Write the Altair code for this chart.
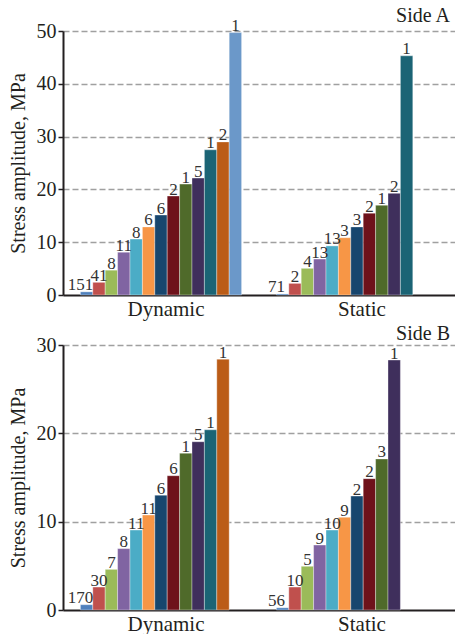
import altair as alt
import pandas as pd

categories = ["Dynamic", "Static"]
series_ids = [f"s{i:02d}" for i in range(1, 14)]
series_colors = ["#4f81bd", "#c0504d", "#9bbb59", "#8064a2", "#4bacc6", "#f79646",
                 "#17466e", "#6e121b", "#4f6a2a", "#3f2f5c", "#1b6475", "#bb5c17", "#6b98c9"]

# Side A
a_dyn_values = [0.6, 2.4, 4.7, 8.1, 10.6, 12.9, 15.15, 18.75, 21.0, 22.15, 27.5, 29.0, 49.7]
a_dyn_counts = [151, 41, 8, 11, 8, 6, 6, 2, 1, 5, 1, 2, 1]
a_sta_values = [0.2, 2.2, 5.05, 6.8, 9.3, 10.85, 12.9, 15.5, 17.0, 19.25, 45.3]
a_sta_counts = [71, 2, 4, 13, 13, 3, 3, 2, 1, 2, 1]

# Side B
b_dyn_values = [0.6, 2.6, 4.6, 6.95, 9.05, 10.75, 13.0, 15.2, 17.75, 19.05, 20.4, 28.4]
b_dyn_counts = [170, 30, 7, 8, 11, 11, 6, 6, 1, 5, 1, 1]
b_sta_values = [0.25, 2.6, 4.95, 7.35, 9.05, 10.5, 12.9, 14.87, 17.1, 28.3]
b_sta_counts = [56, 10, 5, 9, 10, 9, 2, 2, 3, 1]

a_ticks = [0, 10, 20, 30, 40, 50]
b_ticks = [0, 10, 20, 30]

FONT = "Liberation Serif"
INK = "#231f20"


def frame(dyn_v, dyn_c, sta_v, sta_c):
    rows = []
    for cat, vals, cnts in (("Dynamic", dyn_v, dyn_c), ("Static", sta_v, sta_c)):
        for i, (v, c) in enumerate(zip(vals, cnts)):
            rows.append({"cat": cat, "series": series_ids[i], "value": v, "count": c})
    return pd.DataFrame(rows)


def panel(df, ticks, title, height):
    x = alt.X("cat:N", scale=alt.Scale(domain=categories, paddingInner=0.1776, paddingOuter=0.0888),
              axis=alt.Axis(title=None, ticks=False, labelAngle=0, labelPadding=3, labelOffset=5,
                            labelFontSize=21, domainColor=INK, domainWidth=2, grid=False))
    xo = alt.XOffset("series:N", scale=alt.Scale(domain=series_ids, paddingInner=0, paddingOuter=0))
    y = alt.Y("value:Q", scale=alt.Scale(domain=[ticks[0], ticks[-1]], nice=False),
              axis=alt.Axis(values=ticks, title="Stress amplitude, MPa", grid=True,
                            gridDash=[6, 3], gridColor="#a0a0a0", gridWidth=1.3,
                            gridOpacity={"condition": {"test": "datum.value == 0", "value": 0}, "value": 1},
                            domainColor=INK, domainWidth=2, tickColor=INK, tickSize=5,
                            tickWidth=1.5, labelPadding=2, titlePadding=8))
    color = alt.Color("series:N", scale=alt.Scale(domain=series_ids, range=series_colors), legend=None)
    base = alt.Chart(df)
    bars = base.mark_bar(stroke="white", strokeWidth=0.5, strokeOpacity=0.7).encode(
        x=x, xOffset=xo, y=y, color=color)
    text_style = dict(font=FONT, fontSize=17, color="#333333", baseline="alphabetic", dy=-1.5)
    labels = base.transform_filter(alt.datum.series != series_ids[0]).mark_text(**text_style).encode(
        x=x, xOffset=xo, y=y, text=alt.Text("count:Q"))
    first_labels = base.transform_filter(alt.datum.series == series_ids[0]).mark_text(
        dx=-6, **text_style).encode(x=x, xOffset=xo, y=y, text=alt.Text("count:Q"))
    return alt.layer(bars, labels, first_labels).properties(
        width=392, height=height,
        title=alt.TitleParams(title, anchor="end", font=FONT, fontSize=20, fontWeight="normal",
                              color=INK, dx=-5, offset=-9))


top = panel(frame(a_dyn_values, a_dyn_counts, a_sta_values, a_sta_counts), a_ticks, "Side A", 264)
bottom = panel(frame(b_dyn_values, b_dyn_counts, b_sta_values, b_sta_counts), b_ticks, "Side B", 265)

chart = alt.vconcat(top, bottom, spacing=50, bounds="flush").properties(
    padding={"left": 8, "top": 6, "right": 0, "bottom": 0}
).configure_view(stroke=None).configure_axis(
    labelFont=FONT, labelFontSize=20, labelColor=INK, titleFont=FONT, titleFontSize=20,
    titleFontWeight="normal", titleColor=INK
)

chart.save("out.html", embed_options={"renderer": "svg", "actions": False})
